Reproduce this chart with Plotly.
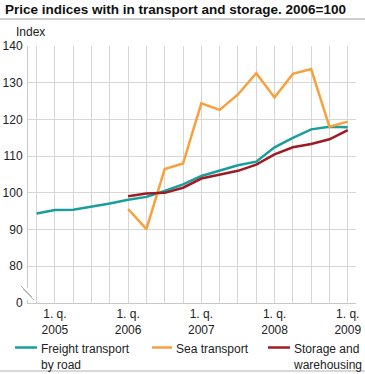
import plotly.graph_objects as go

quarters = ["2004Q4",
            "2005Q1", "2005Q2", "2005Q3", "2005Q4",
            "2006Q1", "2006Q2", "2006Q3", "2006Q4",
            "2007Q1", "2007Q2", "2007Q3", "2007Q4",
            "2008Q1", "2008Q2", "2008Q3", "2008Q4",
            "2009Q1"]

freight_road = [94.4, 95.3, 95.4, 96.2, 97.1,
                98.1, 98.9, 100.5, 102.3,
                104.6, 106.1, 107.5, 108.5,
                112.4, 115.0, 117.3, 118.0, 117.9]

sea_transport = [None, None, None, None, None,
                 95.6, 90.1, 106.5, 108.0,
                 124.4, 122.6, 126.8, 132.6,
                 126.0, 132.4, 133.7, 118.0, 119.4]

storage = [None, None, None, None, None,
           99.1, 99.8, 100.0, 101.4,
           103.9, 105.0, 106.0, 107.7,
           110.5, 112.4, 113.3, 114.6, 117.1]

series_names = ["Freight transport<br>by road", "Sea transport", "Storage and<br>warehousing"]
colors = ["#1a9d9b", "#f7a03c", "#9b1c24"]

ytick_vals = [70, 80, 90, 100, 110, 120, 130, 140]
ytick_text = ["0", "80", "90", "100", "110", "120", "130", "140"]

xpos = list(range(len(quarters)))
xtick_text = [("1. q.<br>" + q[:4]) if q.endswith("Q1") else "" for q in quarters]

W, H = 365, 374
L, R, T, B = 28, 9, 46, 71
PW, PH = W - L - R, H - T - B


def px_x(x):
    return (x - L) / PW


def px_y(y):
    return (H - B - y) / PH


FONT = "Liberation Sans, Arial, sans-serif"

fig = go.Figure()
for name, vals, col in zip(series_names, [freight_road, sea_transport, storage], colors):
    fig.add_trace(go.Scatter(x=xpos, y=vals, name=name, mode="lines",
                             line=dict(color=col, width=2.5), connectgaps=False,
                             showlegend=False))

shapes = [
    # title underline
    dict(type="line", xref="paper", yref="paper", x0=px_x(0), x1=px_x(W), y0=px_y(19), y1=px_y(19),
         line=dict(color="#9a9a9a", width=1)),
    # bottom line
    dict(type="line", xref="paper", yref="paper", x0=px_x(0), x1=px_x(W), y0=px_y(371), y1=px_y(371),
         line=dict(color="#b0b0b0", width=1)),
    # white gap in y axis for break
    dict(type="rect", xref="paper", yref="paper", x0=px_x(26), x1=px_x(30), y0=px_y(300), y1=px_y(288),
         fillcolor="white", line=dict(width=0), layer="above"),
    dict(type="line", xref="paper", yref="paper", x0=px_x(21), x1=px_x(32), y0=px_y(286), y1=px_y(297),
         line=dict(color="#b8b8b8", width=1)),
    dict(type="line", xref="paper", yref="paper", x0=px_x(23), x1=px_x(34), y0=px_y(289), y1=px_y(300),
         line=dict(color="#b8b8b8", width=1)),
]

annotations = [dict(text="Index", xref="paper", yref="paper", x=px_x(14), y=px_y(32),
                    xanchor="left", yanchor="middle", showarrow=False,
                    font=dict(size=12, color="#222222"))]

# legend (manual, so that it matches the reference layout)
legend_x = [(15, 37, 40), (152, 172, 175), (268, 290, 292)]
for (lx0, lx1, tx), name, col in zip(legend_x, series_names, colors):
    shapes.append(dict(type="line", xref="paper", yref="paper", x0=px_x(lx0), x1=px_x(lx1),
                       y0=px_y(347.5), y1=px_y(347.5), line=dict(color=col, width=2.5)))
    annotations.append(dict(text=name, xref="paper", yref="paper", x=px_x(tx), y=px_y(341),
                            xanchor="left", yanchor="top", align="left", showarrow=False,
                            borderpad=0,
                            font=dict(size=12, color="#222222")))

fig.update_layout(
    width=W, height=H,
    margin=dict(l=L, r=R, t=T, b=B, autoexpand=False),
    paper_bgcolor="white", plot_bgcolor="white",
    font=dict(family=FONT, size=12, color="#222222"),
    title=dict(text="<b>Price indices with in transport and storage. 2006=100</b>",
               x=5 / W, xanchor="left", xref="container",
               y=1 - 9 / H, yanchor="middle", yref="container",
               font=dict(family=FONT, size=13.5, color="#111111")),
    xaxis=dict(range=[-0.47, len(quarters) - 1 + 0.45],
               tickmode="array", tickvals=xpos, ticktext=xtick_text, tickangle=0,
               showgrid=True, gridcolor="#d6d6d6", gridwidth=1,
               showline=True, linecolor="#c8c8c8", linewidth=1,
               ticks="", zeroline=False, ticklabeloverflow="allow",
               tickfont=dict(size=12, color="#222222")),
    yaxis=dict(range=[70, 140], tickmode="array", tickvals=ytick_vals, ticktext=ytick_text,
               showgrid=True, gridcolor="#d6d6d6", gridwidth=1,
               showline=True, linecolor="#c8c8c8", linewidth=1,
               ticks="", zeroline=False, ticklabelstandoff=2,
               tickfont=dict(size=12, color="#222222")),
    showlegend=False,
    shapes=shapes,
    annotations=annotations,
)

fig.write_html("out.html", config={"displayModeBar": False},
               post_script="document.body.style.margin='0';document.body.style.overflow='hidden';")
